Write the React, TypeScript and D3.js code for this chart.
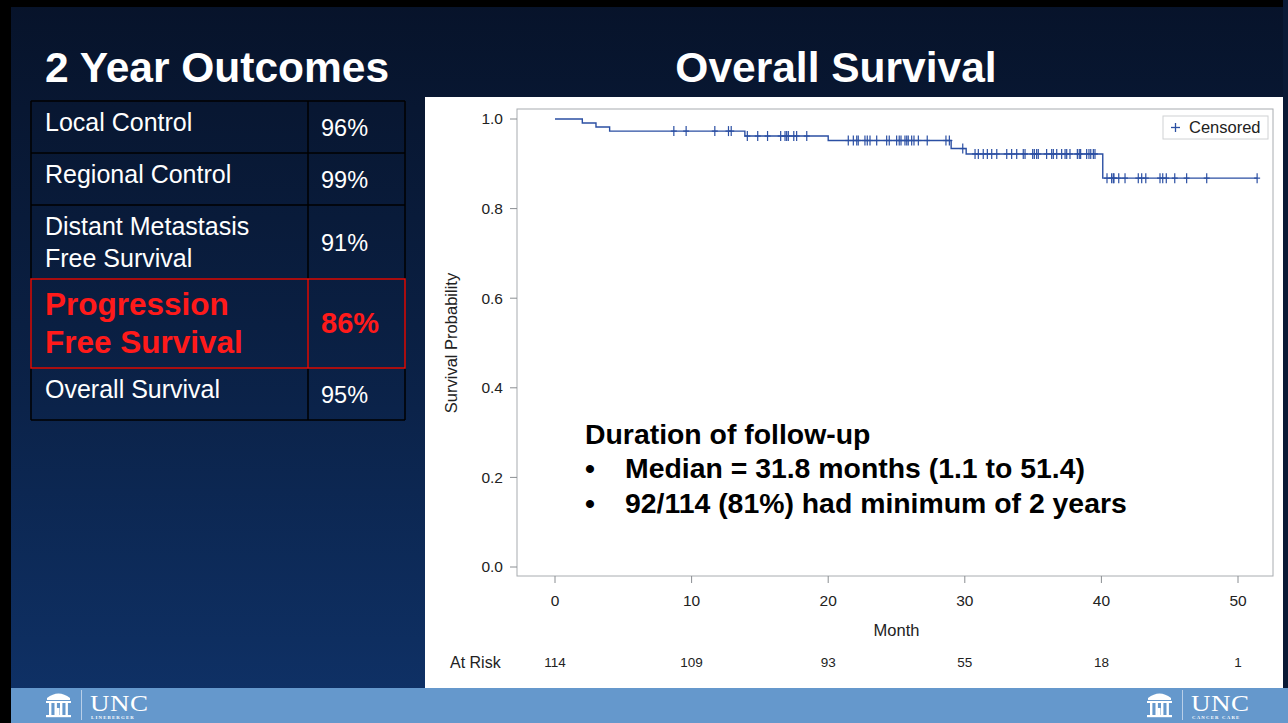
import React from "react";
import * as d3 from "d3";

// Two-year outcome table
const outcomeLabels: string[][] = [
  ["Local Control"],
  ["Regional Control"],
  ["Distant Metastasis", "Free Survival"],
  ["Progression", "Free Survival"],
  ["Overall Survival"],
];
const outcomeValues: string[] = ["96%", "99%", "91%", "86%", "95%"];
const highlightedRow = 3;

// Kaplan–Meier step function: event times (months) and survival after each event
const eventTimes: number[] = [0, 2.0, 3.0, 4.0, 13.9, 20.0, 29.0, 30.1, 40.1];
const survivalLevels: number[] = [1.0, 0.991, 0.982, 0.973, 0.962, 0.952, 0.934, 0.922, 0.868];
const lastFollowUp = 51.4;

// Censored observations (months)
const censorTimes: number[] = [
  8.7, 9.6, 11.7, 12.7, 12.9,
  14.08, 14.84, 15.56, 16.52, 16.84, 16.96, 17.08, 17.48, 17.69, 18.43,
  21.47, 21.84, 22.09, 22.2, 22.69, 22.86, 23.06, 23.55, 24.28, 24.47, 25.01, 25.2, 25.33,
  25.62, 25.75, 25.86, 26.11, 26.28, 26.6, 27.25, 28.62, 28.87,
  29.85,
  30.75, 30.99, 31.35, 31.65, 31.97, 32.34, 33.07, 33.43, 33.8, 34.28, 34.41, 34.97, 35.09,
  35.26, 35.38, 35.99, 36.36, 36.48, 36.73, 37.09, 37.34, 37.46, 37.7, 38.24, 38.38, 38.48,
  38.92, 39.09, 39.22, 39.41, 39.53,
  40.41, 40.75, 40.87, 40.92, 41.27, 41.73, 42.7, 42.95, 43.25, 44.29, 44.49, 44.75, 45.37,
  46.24, 47.71, 51.4,
];

const xTicks: number[] = [0, 10, 20, 30, 40, 50];
const yTicks: number[] = [0, 0.2, 0.4, 0.6, 0.8, 1.0];
const atRisk: number[] = [114, 109, 93, 55, 18, 1];

const followUpTitle = "Duration of follow-up";
const followUpBullets: string[] = [
  "Median = 31.8 months (1.1 to 51.4)",
  "92/114 (81%) had minimum of 2 years",
];

const W = 1288;
const H = 723;
const SANS = "'Liberation Sans', Arial, Helvetica, sans-serif";
const CURVE = "#2b4fa3";
const AXIS_TEXT = "#222";

function UncLogo({ x, y, sub }: { x: number; y: number; sub: string }) {
  const cols = [2, 7.5, 13, 18.5];
  return (
    <g transform={`translate(${x},${y})`} fill="#ffffff" stroke="none">
      {/* Old Well icon */}
      <path d="M0,7 Q11.5,-2 23,7 L23,9 L0,9 Z" />
      <rect x={-1} y={10} width={25} height={2} />
      {cols.map((c) => (
        <rect key={c} x={c} y={12} width={2.4} height={12} />
      ))}
      <rect x={9.5} y={17} width={3} height={7} />
      <rect x={-1} y={24} width={25} height={2.2} />
      <rect x={34} y={-1} width={1} height={30} fill="#b9cfe8" />
      <text
        x={43}
        y={20}
        fontFamily="'Liberation Serif', 'DejaVu Serif', serif"
        fontSize={27}
        letterSpacing={0.5}
        transform={`translate(43,0) scale(1,0.85) translate(-43,3.5)`}
      >
        UNC
      </text>
      <text x={44} y={28} fontFamily="'Liberation Serif', serif" fontSize={4.8} letterSpacing={1.2} fontWeight="bold">
        {sub}
      </text>
    </g>
  );
}

export default function App() {
  const x = d3.scaleLinear().domain([0, 50]).range([555, 1238]);
  const y = d3.scaleLinear().domain([0, 1]).range([567, 119]);

  const stepPts: [number, number][] = eventTimes.map((t, i) => [t, survivalLevels[i]]);
  stepPts.push([lastFollowUp, survivalLevels[survivalLevels.length - 1]]);
  const line = d3
    .line<[number, number]>()
    .x((d) => x(d[0]))
    .y((d) => y(d[1]))
    .curve(d3.curveStepAfter);

  const survivalAt = (t: number) => {
    const i = d3.bisectRight(eventTimes, t) - 1;
    return survivalLevels[Math.max(0, i)];
  };

  // table geometry
  const tLeft = 31, tRight = 405, tDiv = 308;
  const rowEdges = [101, 153, 205, 279, 368, 420];

  const frame = { l: 517, r: 1273, t: 109, b: 576 };

  return (
    <svg
      width={W}
      height={H}
      viewBox={`0 0 ${W} ${H}`}
      style={{ position: "absolute", left: 0, top: 0, display: "block" }}
    >
      <defs>
        <linearGradient id="slideBg" x1="0" y1="0" x2="0" y2="1">
          <stop offset="0" stopColor="#07132a" />
          <stop offset="0.45" stopColor="#0a1f42" />
          <stop offset="1" stopColor="#0f3268" />
        </linearGradient>
      </defs>

      {/* slide background */}
      <rect x={0} y={0} width={W} height={H} fill="url(#slideBg)" />
      <rect x={0} y={0} width={W} height={7} fill="#000" />
      <rect x={0} y={0} width={11} height={H} fill="#000" />
      <rect x={1283} y={0} width={5} height={688} fill="#0a1a36" />

      {/* footer */}
      <rect x={11} y={688} width={W - 11} height={35} fill="#6598cc" />
      <UncLogo x={47} y={691} sub="LINEBERGER" />
      <UncLogo x={1148} y={691} sub="CANCER CARE" />

      {/* titles */}
      <text x={45} y={82} fill="#fff" fontFamily={SANS} fontWeight="bold" fontSize={42.5}>
        2 Year Outcomes
      </text>
      <text x={836} y={82} fill="#fff" fontFamily={SANS} fontWeight="bold" fontSize={42.5} textAnchor="middle">
        Overall Survival
      </text>

      {/* outcome table */}
      <g>
        {outcomeLabels.map((lines, i) => {
          const top = rowEdges[i];
          const bot = rowEdges[i + 1];
          const mid = (top + bot) / 2;
          const hi = i === highlightedRow;
          const fs = hi ? 31.5 : 25;
          const lh = hi ? 38 : 32;
          const color = hi ? "#ff1a1a" : "#ffffff";
          const first = mid - ((lines.length - 1) * lh) / 2;
          const shift = hi ? -0.5 : lines.length > 1 ? 0 : -5;
          return (
            <g key={i}>
              {lines.map((s, j) => (
                <text
                  key={j}
                  x={45}
                  y={first + j * lh + shift}
                  dy="0.35em"
                  fill={color}
                  fontFamily={SANS}
                  fontWeight={hi ? "bold" : "normal"}
                  fontSize={fs}
                >
                  {s}
                </text>
              ))}
              <text
                x={321}
                y={mid + (hi ? -1 : 1)}
                dy="0.35em"
                fill={color}
                fontFamily={SANS}
                fontWeight={hi ? "bold" : "normal"}
                fontSize={hi ? 29 : 23.5}
              >
                {outcomeValues[i]}
              </text>
            </g>
          );
        })}
        {rowEdges.map((ry, i) => (
          <line key={i} x1={tLeft} x2={tRight} y1={ry} y2={ry} stroke="#000" strokeWidth={1.5} />
        ))}
        <line x1={tLeft} x2={tLeft} y1={rowEdges[0]} y2={rowEdges[5]} stroke="#000" strokeWidth={1.5} />
        <line x1={tRight} x2={tRight} y1={rowEdges[0]} y2={rowEdges[5]} stroke="#000" strokeWidth={1.5} />
        <line x1={tDiv} x2={tDiv} y1={rowEdges[0]} y2={rowEdges[5]} stroke="#000" strokeWidth={1.5} />
        <rect
          x={tLeft}
          y={rowEdges[highlightedRow]}
          width={tRight - tLeft}
          height={rowEdges[highlightedRow + 1] - rowEdges[highlightedRow]}
          fill="none"
          stroke="#e01010"
          strokeWidth={1.5}
        />
        <line
          x1={tDiv}
          x2={tDiv}
          y1={rowEdges[highlightedRow]}
          y2={rowEdges[highlightedRow + 1]}
          stroke="#e01010"
          strokeWidth={1.5}
        />
      </g>

      {/* survival chart panel */}
      <rect x={425} y={97} width={858} height={591} fill="#ffffff" />
      <rect
        x={frame.l}
        y={frame.t}
        width={frame.r - frame.l}
        height={frame.b - frame.t}
        fill="none"
        stroke="#a8acb0"
        strokeWidth={1}
      />

      {/* y axis */}
      {yTicks.map((v) => (
        <g key={v}>
          <line x1={510} x2={frame.l} y1={y(v)} y2={y(v)} stroke="#8a8e92" />
          <text x={503} y={y(v)} dy="0.35em" textAnchor="end" fontFamily={SANS} fontSize={15.5} fill={AXIS_TEXT}>
            {v.toFixed(1)}
          </text>
        </g>
      ))}
      <text
        transform={`translate(457,343) rotate(-90)`}
        textAnchor="middle"
        fontFamily={SANS}
        fontSize={16.5}
        fill={AXIS_TEXT}
      >
        Survival Probability
      </text>

      {/* x axis */}
      {xTicks.map((v) => (
        <g key={v}>
          <line x1={x(v)} x2={x(v)} y1={frame.b} y2={frame.b + 7} stroke="#8a8e92" />
          <text x={x(v)} y={606} textAnchor="middle" fontFamily={SANS} fontSize={15.5} fill={AXIS_TEXT}>
            {v}
          </text>
        </g>
      ))}
      <text x={x(25)} y={636} textAnchor="middle" fontFamily={SANS} fontSize={16.5} fill={AXIS_TEXT}>
        Month
      </text>

      {/* number at risk */}
      <text x={450} y={668} fontFamily={SANS} fontSize={16} fill={AXIS_TEXT}>
        At Risk
      </text>
      {atRisk.map((n, i) => (
        <text key={i} x={x(xTicks[i])} y={667} textAnchor="middle" fontFamily={SANS} fontSize={13.5} fill={AXIS_TEXT}>
          {n}
        </text>
      ))}

      {/* survival curve */}
      <path d={line(stepPts) || ""} fill="none" stroke={CURVE} strokeWidth={1.4} />
      {censorTimes.map((t, i) => {
        const cx = x(t);
        const cy = y(survivalAt(t));
        return (
          <g key={i} stroke={CURVE} strokeWidth={1.2}>
            <line x1={cx} x2={cx} y1={cy - 5} y2={cy + 5} />
            <line x1={cx - 3} x2={cx + 3} y1={cy} y2={cy} />
          </g>
        );
      })}

      {/* legend */}
      <rect x={1163} y={116} width={105} height={23} fill="#fff" stroke="#d0d2d4" />
      <g stroke={CURVE} strokeWidth={1.3}>
        <line x1={1175.5} x2={1175.5} y1={123} y2={132} />
        <line x1={1171} x2={1180} y1={127.5} y2={127.5} />
      </g>
      <text x={1189} y={127.5} dy="0.35em" fontFamily={SANS} fontSize={16.5} fill={AXIS_TEXT}>
        Censored
      </text>

      {/* follow-up annotation */}
      <text x={585} y={444} fontFamily={SANS} fontWeight="bold" fontSize={28.4} fill="#000">
        {followUpTitle}
      </text>
      {followUpBullets.map((s, i) => (
        <g key={i}>
          <text x={585} y={478 + i * 35} fontFamily={SANS} fontWeight="bold" fontSize={28.4} fill="#000">
            •
          </text>
          <text x={625} y={478 + i * 35} fontFamily={SANS} fontWeight="bold" fontSize={28.4} fill="#000">
            {s}
          </text>
        </g>
      ))}
    </svg>
  );
}
